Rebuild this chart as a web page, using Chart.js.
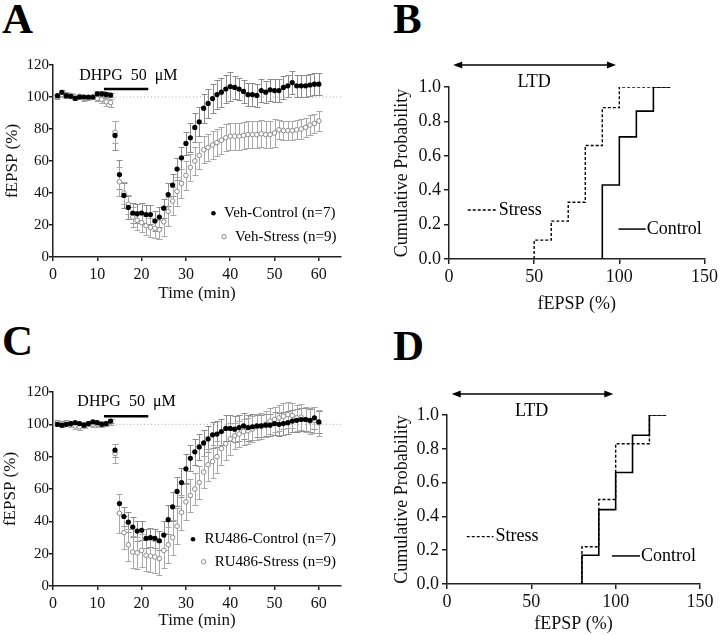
<!DOCTYPE html>
<html>
<head>
<meta charset="utf-8">
<title>DHPG LTD - fEPSP</title>
<script src="https://cdn.jsdelivr.net/npm/chart.js"></script>
<style>
    body { margin: 0; width: 720px; height: 635px; position: relative; overflow: hidden; background: #fff; font-family: "Liberation Serif", "Times New Roman", serif; }
    .panel { position: absolute; }
    .letter { position: absolute; font-weight: bold; font-size: 43px; line-height: 42px; color: #000; }
</style>
</head>
<body>
<div class="letter" style="left:2px; top:-2px;">A</div>
<div class="letter" style="left:393px; top:-2px;">B</div>
<div class="letter" style="left:2px; top:320px;">C</div>
<div class="letter" style="left:393px; top:325px;">D</div>

<div class="panel" style="left:0; top:0;"><canvas id="chartA" width="360" height="310"></canvas></div>
<div class="panel" style="left:360px; top:0;"><canvas id="chartB" width="360" height="320"></canvas></div>
<div class="panel" style="left:0; top:320px;"><canvas id="chartC" width="360" height="315"></canvas></div>
<div class="panel" style="left:360px; top:320px;"><canvas id="chartD" width="360" height="315"></canvas></div>

<script>
// time course data (minutes), mean and SEM
var timeMin = [1, 2, 3, 4, 5, 6, 7, 8, 9, 10, 11, 12, 13, 14, 15, 16, 17, 18, 19, 20,
    21, 22, 23, 24, 25, 26, 27, 28, 29, 30, 31, 32, 33, 34, 35, 36, 37, 38, 39, 40,
    41, 42, 43, 44, 45, 46, 47, 48, 49, 50, 51, 52, 53, 54, 55, 56, 57, 58, 59, 60];

var vehControl = [100.8, 102.9, 100.8, 100.4, 99.2, 100, 100, 100, 100, 102, 102, 101.6, 101.2, 76, 51.5, 38.5, 31, 27.5, 27, 27.5,
    26.5, 26.5, 22.5, 25, 30.5, 39, 45, 55, 62, 71, 74.5, 81, 84.5, 93, 96, 99, 101.5, 103, 105, 106.5,
    106, 105, 103.5, 101.5, 101.5, 101, 104, 103, 104.5, 104, 104, 106, 107, 109, 107, 107, 107, 107.5, 108, 108];
var vehControlErr = [1.2, 1.2, 1.2, 1.2, 1.2, 1.2, 1.2, 1.2, 1.2, 1.5, 1.5, 1.5, 1.5, 9, 9, 8, 7, 6, 6, 6,
    6, 6, 6, 6, 6, 7, 7, 7, 7, 7, 9, 9, 9, 9, 9, 9, 9, 9, 9, 9,
    7, 7, 7, 7, 7, 7, 7, 7, 7, 7, 7, 7, 7, 7, 7, 7, 7, 7, 7, 7];
var vehStress = [100, 101.5, 101.5, 101, 100, 100.5, 99, 99.5, 100, 99, 98.5, 97, 96.5, 78, 47, 40, 33, 25, 23, 21.5,
    19.5, 18.5, 18, 17, 22, 28.5, 35, 41, 46, 51, 56, 60, 63.5, 67, 68.5, 70, 71.5, 73, 74.5, 75.5,
    75.5, 75.5, 76, 76.5, 76.5, 76.5, 77, 76.5, 76.5, 77.5, 79.5, 79, 79, 79, 79.5, 80, 81, 82.5, 83.5, 85];
var vehStressErr = [1.5, 1.5, 1.5, 1.5, 1.5, 1.5, 1.5, 1.5, 1.5, 1.5, 2.5, 2.5, 2.5, 7, 9, 7, 6, 6, 6, 6,
    6, 6, 6, 6, 9, 9, 9, 9, 9, 9, 8.5, 8.5, 8.5, 8.5, 8.5, 8.5, 8.5, 8.5, 8.5, 8.5,
    8.5, 8.5, 8.5, 8.5, 8.5, 8.5, 8.5, 8.5, 8.5, 8.5, 6, 6, 6, 6, 6, 6, 6, 6, 6, 6];

var ruControl = [100, 99.5, 100, 100.5, 101, 100.5, 99.5, 100.5, 101.5, 101, 100, 100.5, 102, 84, 51, 43, 39.5, 36.5, 34, 34.5,
    29.5, 30, 29.5, 28, 31.5, 41, 49, 58.5, 64, 72.5, 79, 83, 86, 88.5, 91, 93.5, 94, 95.5, 97.5, 97.5,
    97, 98, 99, 98, 98.5, 99, 99, 99.5, 99.5, 100.5, 100, 100.5, 101, 102, 102.5, 103, 103, 102.5, 104, 101.5];
var ruControlErr = [1.2, 1.2, 1.2, 1.2, 1.2, 1.2, 1.2, 1.2, 1.2, 1.2, 1.2, 1.2, 1.2, 4, 6, 6, 6, 6, 6, 6,
    6, 6, 6, 6, 9, 9, 9, 9, 9, 9, 8, 8, 8, 8, 8, 8, 8, 8, 8, 8,
    8, 8, 8, 8, 8, 7, 7, 7, 7, 7, 7, 7, 7, 7, 7, 7, 7, 7, 7, 7];
var ruStress = [101, 100.5, 101, 100, 99, 98.5, 99.5, 100.5, 100, 100, 100, 100.5, 101.5, 82, 45, 33, 25.5, 21, 20.5, 22,
    19, 18.5, 18, 17, 22, 25.5, 30, 37, 45.5, 52, 56, 60, 64, 70.5, 75, 77, 80, 85, 88, 91,
    93, 94, 95.5, 96, 97, 98.5, 99, 100, 102, 103, 104, 105, 106, 105.5, 104, 104.5, 103, 102, 102.5, 101];
var ruStressErr = [1.8, 1.8, 1.8, 1.8, 1.8, 1.8, 1.8, 1.8, 1.8, 1.8, 1.8, 1.8, 1.8, 6, 12, 10, 10, 10, 10, 10,
    10, 10, 10, 10, 11, 11, 11, 11, 11, 11, 10, 10, 10, 10, 10, 10, 10, 10, 10, 10,
    8, 8, 8, 8, 8, 8, 8, 8, 8, 8, 8, 8, 8, 8, 8, 8, 8, 8, 8, 8];

var baselineX = [0, 65];
var baselineY = [100, 100];
var dhpgX = [11.5, 21.5];
var dhpgY = [105, 105];

// cumulative probability (step points)
var vehStressBinX = [50, 50, 60, 70, 80, 90, 100, 130];
var vehStressCum = [0, 0.11, 0.22, 0.33, 0.66, 0.88, 1, 1];
var vehControlBinX = [90, 90, 100, 110, 120, 130];
var vehControlCum = [0, 0.43, 0.71, 0.86, 1, 1];
var ruStressBinX = [80, 80, 90, 100, 120, 130];
var ruStressCum = [0, 0.22, 0.5, 0.83, 1, 1];
var ruControlBinX = [80, 80, 90, 100, 110, 120, 130];
var ruControlCum = [0, 0.17, 0.44, 0.66, 0.88, 1, 1];

var timeTicks = [0, 10, 20, 30, 40, 50, 60];
var fepspTicks = [0, 20, 40, 60, 80, 100, 120];
var cdfXTicks = [0, 50, 100, 150];
var cdfYTicks = [0, 0.2, 0.4, 0.6, 0.8, 1.0];

var serif = '"Liberation Serif", "Times New Roman", serif';
var axisColor = '#222';
Chart.defaults.font.family = serif;
Chart.defaults.color = '#111';

function pairs(xs, ys) {
    return xs.map(function(x, i) { return { x: x, y: ys[i] }; });
}

// SEM bars, drawn under the markers
var errorBars = {
    id: 'errorBars',
    beforeDatasetsDraw: function(chart) {
        var ctx = chart.ctx, ys = chart.scales.y;
        chart.data.datasets.forEach(function(ds, i) {
            if (!ds.errors) return;
            var meta = chart.getDatasetMeta(i);
            ctx.save();
            ctx.strokeStyle = ds.errorColor;
            ctx.lineWidth = 1;
            meta.data.forEach(function(pt, j) {
                var v = ds.data[j].y, e = ds.errors[j];
                var top = Math.round(ys.getPixelForValue(v + e)) + 0.5;
                var bot = Math.round(ys.getPixelForValue(v - e)) + 0.5;
                var x = Math.round(pt.x) + 0.5;
                ctx.beginPath();
                ctx.moveTo(x, top); ctx.lineTo(x, bot);
                ctx.moveTo(x - 3, top); ctx.lineTo(x + 3, top);
                ctx.moveTo(x - 3, bot); ctx.lineTo(x + 3, bot);
                ctx.stroke();
            });
            ctx.restore();
        });
    }
};

function at(chart, x, y) {
    return [chart.scales.x.getPixelForValue(x), chart.scales.y.getPixelForValue(y)];
}

function axisOpts(o) {
    return {
        type: 'linear', min: o.min, max: o.max,
        afterBuildTicks: function(s) { s.ticks = o.ticks.map(function(v) { return { value: v }; }); },
        afterFit: o.fit,
        grid: { drawOnChartArea: false, tickLength: o.tickLen, color: axisColor, lineWidth: 1.5 },
        border: { color: axisColor, width: 1.5 },
        ticks: { font: { size: o.tickSize }, padding: o.tickPad, color: '#111', maxRotation: 0, autoSkip: false, callback: o.fmt },
        title: { display: true, text: o.title, font: { size: o.titleSize }, padding: o.titlePad, color: '#111' }
    };
}

function timeChart(id, o) {
    var notes = {
        id: 'notes',
        afterDatasetsDraw: function(chart) {
            var ctx = chart.ctx, p;
            ctx.save();
            ctx.fillStyle = '#000';
            ctx.textBaseline = 'middle';
            ctx.font = '16px ' + serif;
            ctx.textAlign = 'center';
            p = at(chart, o.drugText[0], o.drugText[1]);
            ctx.fillText('DHPG  50  \u03bcM', p[0], p[1]);
            ctx.textAlign = 'left';
            ctx.font = '15px ' + serif;
            p = at(chart, o.legend[0][0], o.legend[0][1]);
            ctx.beginPath(); ctx.arc(p[0], p[1], 2.3, 0, Math.PI * 2); ctx.fill();
            p = at(chart, o.legend[0][2], o.legend[0][1]);
            ctx.fillText(o.names[0], p[0], p[1]);
            p = at(chart, o.legend[1][0], o.legend[1][1]);
            ctx.beginPath(); ctx.arc(p[0], p[1], 2.2, 0, Math.PI * 2);
            ctx.fillStyle = '#fff'; ctx.fill();
            ctx.strokeStyle = '#8a8a8a'; ctx.lineWidth = 1; ctx.stroke();
            ctx.fillStyle = '#000';
            p = at(chart, o.legend[1][2], o.legend[1][1]);
            ctx.fillText(o.names[1], p[0], p[1]);
            ctx.restore();
        }
    };
    return new Chart(document.getElementById(id), {
        type: 'line',
        data: {
            datasets: [
                { data: pairs(timeMin, o.control), errors: o.controlErr, errorColor: '#8c8c8c', showLine: false,
                  pointRadius: 2.6, pointBackgroundColor: '#000', pointBorderColor: '#000', pointBorderWidth: 0 },
                { data: pairs(timeMin, o.stress), errors: o.stressErr, errorColor: '#a8a8a8', showLine: false,
                  pointRadius: 2.3, pointBackgroundColor: '#fff', pointBorderColor: '#8a8a8a', pointBorderWidth: 1 },
                { data: pairs(baselineX, baselineY), borderColor: '#aaa', borderWidth: 1, borderDash: [1, 2.5], pointRadius: 0 },
                { data: pairs(dhpgX, dhpgY), borderColor: '#000', borderWidth: 2.5, pointRadius: 0 }
            ]
        },
        options: {
            responsive: false,
            animation: false,
            layout: { padding: o.pad },
            plugins: { legend: { display: false }, tooltip: { enabled: false } },
            scales: {
                x: axisOpts({ min: 0, max: 65, ticks: timeTicks, tickLen: 4, tickSize: 16, tickPad: 4,
                    fit: function(s) { s.height = o.xh; }, title: 'Time (min)', titleSize: 17,
                    titlePad: { top: 0, bottom: o.xTitlePad } }),
                y: axisOpts({ min: 0, max: 120, ticks: fepspTicks, tickLen: 4, tickSize: 15, tickPad: 0,
                    fit: function(s) { s.width = o.yw; }, title: 'fEPSP (%)', titleSize: 17,
                    titlePad: { top: o.yTitlePad, bottom: 0 } })
            }
        },
        plugins: [errorBars, notes]
    });
}

function cdfChart(id, o) {
    var notes = {
        id: 'notes',
        afterDraw: function(chart) {
            var ctx = chart.ctx, p, q;
            ctx.save();
            ctx.strokeStyle = '#000';
            ctx.fillStyle = '#000';
            ctx.lineWidth = 1.5;
            // LTD range arrow
            p = at(chart, o.arrow[0], o.arrow[2]);
            q = at(chart, o.arrow[1], o.arrow[2]);
            ctx.beginPath(); ctx.moveTo(p[0] + 4, p[1]); ctx.lineTo(q[0] - 4, q[1]); ctx.stroke();
            ctx.beginPath(); ctx.moveTo(p[0], p[1]); ctx.lineTo(p[0] + 9, p[1] - 3.5); ctx.lineTo(p[0] + 9, p[1] + 3.5); ctx.closePath(); ctx.fill();
            ctx.beginPath(); ctx.moveTo(q[0], q[1]); ctx.lineTo(q[0] - 9, q[1] - 3.5); ctx.lineTo(q[0] - 9, q[1] + 3.5); ctx.closePath(); ctx.fill();
            ctx.font = '18px ' + serif;
            ctx.textBaseline = 'middle';
            ctx.textAlign = 'center';
            p = at(chart, o.ltd[0], o.ltd[1]);
            ctx.fillText('LTD', p[0], p[1]);
            // line legend
            ctx.textAlign = 'left';
            ctx.lineWidth = 1.3;
            ctx.setLineDash([3, 2]);
            p = at(chart, o.stressKey[0], o.stressKey[2]);
            q = at(chart, o.stressKey[1], o.stressKey[2]);
            ctx.beginPath(); ctx.moveTo(p[0], p[1]); ctx.lineTo(q[0], q[1]); ctx.stroke();
            ctx.fillText('Stress', q[0] + 2, q[1]);
            ctx.setLineDash([]);
            ctx.lineWidth = 1.5;
            p = at(chart, o.controlKey[0], o.controlKey[2]);
            q = at(chart, o.controlKey[1], o.controlKey[2]);
            ctx.beginPath(); ctx.moveTo(p[0], p[1]); ctx.lineTo(q[0], q[1]); ctx.stroke();
            ctx.fillText('Control', q[0] + 1, q[1]);
            ctx.restore();
        }
    };
    return new Chart(document.getElementById(id), {
        type: 'line',
        data: {
            datasets: [
                { data: pairs(o.controlX, o.controlY), stepped: true, borderColor: '#000', borderWidth: 1.6, pointRadius: 0 },
                { data: pairs(o.stressX, o.stressY), stepped: true, borderColor: '#000', borderWidth: 1.4, borderDash: [3, 2], pointRadius: 0 }
            ]
        },
        options: {
            responsive: false,
            animation: false,
            layout: { padding: o.pad },
            plugins: { legend: { display: false }, tooltip: { enabled: false } },
            scales: {
                x: axisOpts({ min: 0, max: 150, ticks: cdfXTicks, tickLen: 5, tickSize: 18, tickPad: 2,
                    fit: function(s) { s.height = o.xh; }, title: 'fEPSP (%)', titleSize: 18,
                    titlePad: { top: 0, bottom: o.xTitlePad } }),
                y: axisOpts({ min: 0, max: 1, ticks: cdfYTicks, tickLen: 5, tickSize: 18, tickPad: 3,
                    fmt: function(v) { return v.toFixed(1); },
                    fit: function(s) { s.width = o.yw; }, title: 'Cumulative Probability', titleSize: 18,
                    titlePad: { top: o.yTitlePad, bottom: 0 } })
            }
        },
        plugins: [notes]
    });
}

timeChart('chartA', {
    control: vehControl, controlErr: vehControlErr, stress: vehStress, stressErr: vehStressErr,
    names: ['Veh-Control (n=7)', 'Veh-Stress (n=9)'],
    legend: [[36.2, 27.3, 38.6], [38.6, 12.7, 41.1]],
    drugText: [17, 113],
    pad: { left: 0, right: 19, top: 65, bottom: 0 }, xh: 53, yw: 53, xTitlePad: 6, yTitlePad: 2
});

cdfChart('chartB', {
    controlX: vehControlBinX, controlY: vehControlCum, stressX: vehStressBinX, stressY: vehStressCum,
    arrow: [2.5, 98, 1.128], ltd: [50, 1.025],
    stressKey: [11, 28, 0.285], controlKey: [99.5, 115.5, 0.174],
    pad: { left: 0, right: 13, top: 87, bottom: 0 }, xh: 61, yw: 89, xTitlePad: 5, yTitlePad: 31
});

timeChart('chartC', {
    control: ruControl, controlErr: ruControlErr, stress: ruStress, stressErr: ruStressErr,
    names: ['RU486-Control (n=7)', 'RU486-Stress (n=9)'],
    legend: [[31.6, 28.9, 34.2], [34, 15, 36.5]],
    drugText: [16.6, 114],
    pad: { left: 0, right: 19, top: 72, bottom: 0 }, xh: 49, yw: 53, xTitlePad: 4, yTitlePad: 0
});

cdfChart('chartD', {
    controlX: ruControlBinX, controlY: ruControlCum, stressX: ruStressBinX, stressY: ruStressCum,
    arrow: [2.8, 98.6, 1.124], ltd: [50.2, 1.02],
    stressKey: [11.7, 27.5, 0.28], controlKey: [97.8, 114.4, 0.166],
    pad: { left: 0, right: 20, top: 95, bottom: 0 }, xh: 51, yw: 87, xTitlePad: 0, yTitlePad: 31
});
</script>
</body>
</html>
